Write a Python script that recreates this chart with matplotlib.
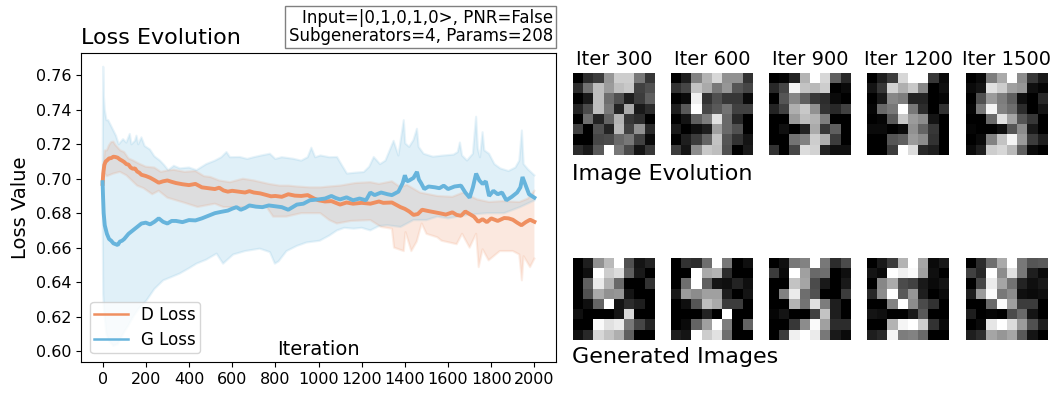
import numpy as np
import matplotlib
matplotlib.use("Agg")
import matplotlib.pyplot as plt

W, H = 1060, 395
D_COLOR = "#ef8f60"
G_COLOR = "#67b4dc"

d_x = [0,3,8,14,20,30,40,50,60,70,80,90,100,110,120,130,140,150,160,170,180,200,220,240,260,280,300,320,340,370,400,430,460,490,520,540,560,580,600,630,660,680,700,730,760,780,800,830,860,890,920,950,980,1000,1030,1060,1100,1130,1160,1200,1240,1280,1300,1340,1380,1400,1420,1440,1460,1480,1510,1560,1590,1620,1640,1660,1680,1700,1720,1740,1760,1780,1800,1830,1860,1880,1900,1920,1940,1960,1980,2000]
d_loss = [.697,.703,.708,.710,.7106,.7118,.712,.7128,.7126,.7122,.7112,.7105,.7097,.7085,.7082,.7065,.7058,.7060,.7042,.7035,.7023,.7016,.7006,.6992,.6977,.6985,.699,.6982,.6975,.6968,.6963,.6970,.695,.6945,.694,.6948,.6932,.6925,.693,.6925,.692,.6928,.692,.6915,.6905,.6898,.690,.6895,.691,.6902,.690,.6905,.6885,.6875,.6868,.687,.685,.6862,.6855,.686,.6855,.6868,.686,.6862,.6835,.6825,.681,.679,.6795,.682,.6812,.680,.6792,.6805,.679,.6785,.681,.6795,.678,.675,.6765,.6748,.677,.6755,.6772,.677,.6762,.6745,.673,.6748,.6762,.675]
g_x = [0,2,5,10,20,30,40,50,60,70,80,90,100,120,140,160,180,200,220,240,260,280,300,320,340,370,400,430,460,490,520,550,580,600,620,640,660,680,710,740,770,800,830,860,880,900,930,960,1000,1030,1060,1080,1100,1130,1160,1190,1220,1240,1260,1290,1320,1340,1370,1390,1400,1410,1420,1440,1456,1465,1475,1490,1510,1540,1560,1580,1600,1630,1660,1680,1700,1715,1730,1745,1760,1775,1790,1810,1830,1850,1870,1895,1920,1935,1945,1960,1975,2000]
g_loss = [.698,.690,.680,.673,.668,.665,.664,.6625,.662,.6615,.6635,.664,.665,.668,.670,.672,.674,.6745,.6735,.675,.677,.675,.674,.6755,.6755,.6748,.676,.6758,.677,.6785,.680,.6808,.6815,.6826,.6835,.682,.683,.6845,.6838,.6835,.6845,.684,.6835,.682,.6835,.685,.6855,.6875,.688,.6885,.690,.6888,.688,.6892,.6875,.6885,.6875,.692,.6905,.692,.691,.6905,.6925,.6975,.702,.6985,.699,.7005,.704,.6995,.6975,.694,.6955,.695,.6945,.696,.694,.6955,.696,.692,.689,.695,.703,.699,.697,.6985,.690,.693,.691,.692,.6875,.6895,.692,.695,.701,.696,.691,.689]

gu_x = [0,3,6,10,14,18,26,38,50,62,75,95,110,126,134,150,157,165,180,195,219,240,265,285,304,330,358,400,435,480,520,550,574,590,636,670,700,735,775,800,830,883,920,950,967,985,1009,1050,1086,1110,1132,1170,1210,1235,1256,1285,1310,1348,1370,1395,1402,1420,1440,1456,1464,1487,1530,1580,1626,1645,1655,1665,1688,1715,1730,1738,1748,1760,1768,1790,1815,1842,1880,1912,1930,1942,1950,1970,2000]
g_upper = [.699,.765,.748,.740,.737,.734,.734,.731,.728,.725,.720,.723,.721,.726,.720,.722,.725,.720,.724,.719,.717,.713,.7106,.708,.705,.7075,.706,.7065,.705,.7085,.7105,.7125,.7155,.7125,.7126,.7115,.7125,.7135,.7145,.7115,.7125,.7116,.7105,.7125,.718,.7125,.7135,.7125,.7126,.7075,.703,.7035,.7039,.707,.7126,.7085,.7105,.722,.7135,.734,.7205,.7185,.7225,.729,.7185,.7145,.7128,.7135,.714,.7155,.721,.7135,.7106,.7145,.736,.7175,.7125,.727,.7165,.7145,.7085,.706,.7045,.7065,.7105,.728,.7085,.7055,.702]
gl_x = [0,1,3,6,10,18,30,50,70,95,120,142,170,204,240,281,320,358,400,435,480,528,558,605,660,728,775,798,815,852,900,945,1006,1050,1086,1120,1163,1200,1240,1280,1318,1380,1440,1500,1550,1600,1690,1780,1860,1935,2000]
g_lower = [.698,.668,.633,.626,.620,.610,.606,.603,.604,.610,.615,.620,.625,.6294,.636,.641,.643,.645,.648,.6507,.653,.6565,.6507,.656,.658,.6594,.6574,.6507,.652,.658,.661,.663,.664,.667,.670,.6715,.671,.6715,.670,.6725,.673,.672,.676,.676,.678,.677,.679,.680,.680,.6836,.6874]
du_x = [0,5,10,20,30,40,50,60,82,100,120,140,170,200,240,270,300,330,380,430,470,500,540,590,650,700,770,820,860,900,960,1010,1050,1100,1170,1240,1280,1340,1380,1409,1470,1550,1620,1670,1735,1790,1850,1930,1970,2000]
d_upper = [.698,.708,.7164,.7165,.7195,.7213,.7215,.7195,.7165,.7155,.7118,.7107,.7087,.707,.7065,.704,.7048,.7052,.704,.7045,.7015,.701,.699,.698,.70,.699,.697,.696,.696,.6955,.695,.695,.6955,.696,.6975,.698,.697,.6985,.695,.6965,.692,.690,.6895,.692,.688,.6865,.687,.6865,.6885,.693]
dl_x = [0,5,10,20,50,80,110,160,190,230,260,300,380,440,520,560,600,680,760,790,850,920,1000,1008,1050,1085,1150,1240,1290,1340,1350,1395,1403,1430,1455,1478,1500,1550,1570,1640,1665,1700,1730,1742,1760,1788,1840,1900,1930,1942,1950,1980,2000]
d_lower = [.695,.700,.703,.7015,.703,.704,.702,.696,.6945,.691,.693,.689,.686,.6836,.6855,.6835,.6835,.6835,.6835,.678,.678,.680,.680,.680,.676,.674,.6755,.676,.672,.671,.660,.658,.669,.658,.6635,.674,.668,.666,.664,.662,.668,.660,.668,.6487,.659,.6526,.658,.658,.656,.641,.655,.6487,.6536]

x_ticks = list(range(0, 2001, 200))
y_ticks = [.60,.62,.64,.66,.68,.70,.72,.74,.76]

evolution_titles = ["Iter 300", "Iter 600", "Iter 900", "Iter 1200", "Iter 1500"]
evolution_images = [
 [[0,45,60,150,205,205,120,55],[45,115,190,155,190,200,65,80],[0,25,190,110,80,30,60,95],[35,75,190,120,35,170,25,45],[0,110,35,100,180,55,45,0],[65,0,80,35,185,65,145,40],[0,0,70,75,105,120,65,10],[45,25,90,255,120,75,20,55]],
 [[0,30,130,180,215,145,145,50],[50,70,195,170,120,150,85,70],[0,10,240,50,80,55,55,10],[30,90,255,70,90,115,65,65],[0,20,95,125,225,105,40,0],[25,0,15,30,160,105,80,0],[0,30,60,100,195,85,50,20],[60,20,140,200,190,80,0,25]],
 [[0,5,35,180,255,215,95,40],[40,70,245,195,185,205,0,10],[0,85,135,95,55,45,10,0],[35,65,175,200,145,50,40,65],[0,0,155,190,180,125,0,0],[0,15,0,35,170,55,95,0],[0,0,115,130,205,175,60,0],[50,0,70,220,210,35,15,15]],
 [[0,30,60,215,255,255,55,10],[20,55,210,175,200,135,0,15],[0,25,135,125,35,35,0,5],[5,105,120,255,120,45,0,50],[0,5,90,200,155,140,20,0],[10,10,0,10,145,100,55,0],[0,0,85,95,155,140,50,0],[0,0,60,255,220,40,30,0]],
 [[0,10,125,170,255,140,55,25],[10,20,225,205,160,150,15,5],[0,80,155,125,95,15,0,40],[5,120,245,130,110,45,0,20],[0,0,105,225,165,85,55,0],[5,0,0,15,85,140,25,0],[0,10,130,195,245,155,60,30],[10,30,205,215,185,95,10,0]],
]
generated_images = [
 [[0,30,145,185,255,80,20,35],[0,15,255,205,220,95,25,0],[0,95,235,180,105,0,0,50],[0,80,170,145,150,20,0,0],[0,15,100,255,20,45,30,0],[15,0,0,0,20,215,0,0],[0,0,250,225,235,120,70,35],[15,40,215,195,175,95,0,0]],
 [[0,50,45,110,255,120,0,15],[0,0,255,170,180,45,0,0],[0,110,255,95,20,15,35,15],[25,155,140,160,160,30,0,20],[0,15,85,190,170,60,60,0],[0,0,0,35,0,255,0,0],[0,10,100,160,255,125,0,100],[30,20,255,205,225,110,0,0]],
 [[0,15,120,130,255,120,45,75],[60,10,255,160,105,110,0,15],[0,0,195,165,75,25,0,25],[0,130,235,110,80,0,0,60],[0,0,180,115,225,125,30,0],[5,20,0,0,65,195,30,0],[0,0,55,140,250,160,45,45],[0,60,240,255,235,120,25,10]],
 [[0,25,60,180,255,165,10,25],[20,10,255,240,250,160,15,0],[0,135,170,75,65,25,10,20],[40,140,255,90,150,30,0,10],[0,0,130,255,140,75,50,0],[20,15,0,0,25,90,0,0],[0,0,180,245,255,205,50,10],[30,40,245,125,130,105,0,0]],
 [[0,45,110,170,255,120,85,90],[65,40,255,140,225,120,30,10],[0,70,235,165,115,35,15,25],[30,155,250,120,140,15,10,15],[0,0,105,250,160,60,60,0],[30,0,5,0,75,105,20,0],[0,10,230,255,220,155,80,30],[30,45,165,150,165,90,20,0]],
]

fig = plt.figure(figsize=(W / 100, H / 100), dpi=100)

def box(l, t, r, b):
    return [l / W, 1 - b / H, (r - l) / W, (b - t) / H]

ax = fig.add_axes(box(81, 53, 556, 362))

def band(xu, u, xl, l, color):
    ax.fill(list(xu) + list(xl)[::-1], list(u) + list(l)[::-1], color=color, alpha=0.2, lw=0)
    ax.plot(xu, u, color=color, alpha=0.15, lw=1.6)
    ax.plot(xl, l, color=color, alpha=0.15, lw=1.6)

band(du_x, d_upper, dl_x, d_lower, D_COLOR)
band(gu_x, g_upper, gl_x, g_lower, G_COLOR)
ax.plot(d_x, d_loss, color=D_COLOR, lw=2.8, label="D Loss", solid_joinstyle="bevel")
ax.plot(g_x, g_loss, color=G_COLOR, lw=2.8, label="G Loss", solid_joinstyle="bevel")

ax.set_xlim(-100, 2100)
ax.set_ylim(0.5936, 0.773)
ax.set_xticks(x_ticks)
ax.set_yticks(y_ticks)
ax.set_yticklabels([f"{v:.2f}" for v in y_ticks])
ax.tick_params(labelsize=11.5, length=3.5)
ax.set_xlabel("Iteration", fontsize=14, labelpad=-33.5)
ax.set_ylabel("Loss Value", fontsize=14, labelpad=4)
ax.set_title("Loss Evolution", loc="left", fontsize=16, pad=6.5)
leg = ax.legend(loc="lower left", fontsize=12, handlelength=2, borderaxespad=0.55,
                borderpad=0.25, labelspacing=0.4)
for h in leg.get_lines():
    h.set_linewidth(1.8)

fig.text(553 / W, 1 - 27 / H, "Input=|0,1,0,1,0>, PNR=False\nSubgenerators=4, Params=208",
         ha="right", va="center", fontsize=12, linespacing=0.98, multialignment="right",
         bbox=dict(boxstyle="square,pad=0.2", fc="white", ec="#808080", lw=1.0))

lefts = [573, 671, 769, 867, 966]
for i, x0 in enumerate(lefts):
    a = fig.add_axes(box(x0, 73, x0 + 82, 155))
    a.imshow(evolution_images[i], cmap="gray", vmin=0, vmax=255, aspect="equal", interpolation="nearest")
    a.axis("off")
    a.set_title(evolution_titles[i], fontsize=14, pad=6)
    b = fig.add_axes(box(x0, 258, x0 + 82, 340))
    b.imshow(generated_images[i], cmap="gray", vmin=0, vmax=255, aspect="equal", interpolation="nearest")
    b.axis("off")

fig.text(572 / W, 1 - 174 / H, "Image Evolution", fontsize=16, ha="left", va="center")
fig.text(572 / W, 1 - 357 / H, "Generated Images", fontsize=16, ha="left", va="center")

fig.savefig("out.png", dpi=100)
